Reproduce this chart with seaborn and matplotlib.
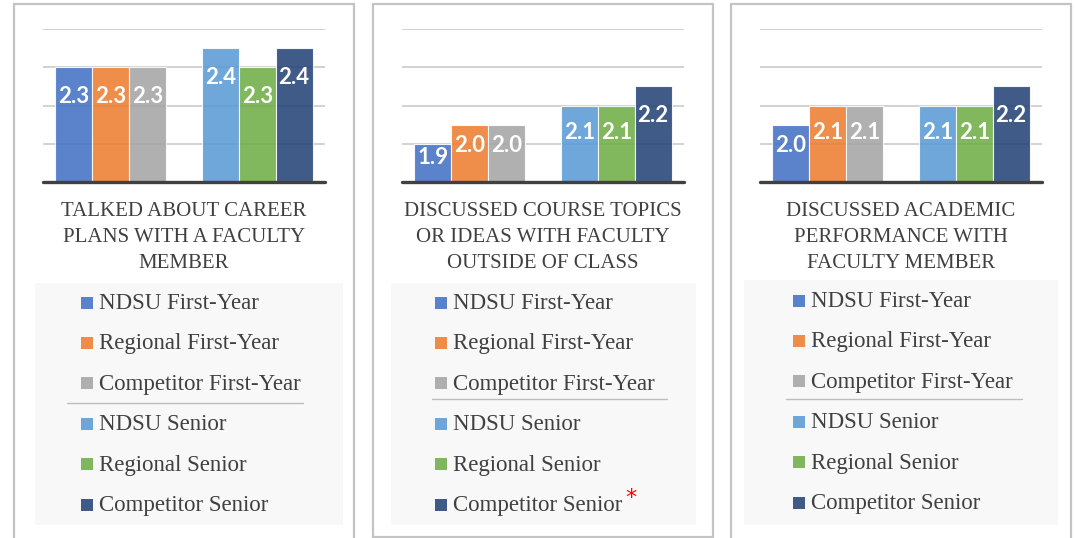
import numpy as np
import pandas as pd
import matplotlib
matplotlib.use("Agg")
import matplotlib.pyplot as plt
from matplotlib.patches import Rectangle
from matplotlib.lines import Line2D
import seaborn as sns

# dados
titulos = ["TALKED ABOUT CAREER\nPLANS WITH A FACULTY\nMEMBER",
           "DISCUSSED COURSE TOPICS\nOR IDEAS WITH FACULTY\nOUTSIDE OF CLASS",
           "DISCUSSED ACADEMIC\nPERFORMANCE WITH\nFACULTY MEMBER"]
coortes = ["First-Year", "Senior"]
escolas = ["NDSU", "Regional", "Competitor"]
primeiro_ano = [[2.3, 2.3, 2.3], [1.9, 2.0, 2.0], [2.0, 2.1, 2.1]]
senior = [[2.4, 2.3, 2.4], [2.1, 2.1, 2.2], [2.1, 2.1, 2.2]]
series = ["NDSU First-Year", "Regional First-Year", "Competitor First-Year",
          "NDSU Senior", "Regional Senior", "Competitor Senior"]
cores = ["#4472C4", "#ED7D31", "#A5A5A5", "#5B9BD5", "#70AD47", "#264478"]
yticks = [1.7, 1.9, 2.1, 2.3, 2.5]

W, H = 1075, 538
sns.set_theme(style="white")
plt.rcParams['font.family'] = ['Liberation Serif', 'DejaVu Serif']
fig = plt.figure(figsize=(W / 100, H / 100), dpi=100)
fig.patch.set_facecolor("white")

def fx(px):
    return px / W

def fy(py):
    return 1 - py / H

plot_left = [43, 402, 760]
plot_w = 282
moldura = [(14, 354), (373, 713), (731, 1071)]
fundo_leg = [(35, 343, 283), (391, 696, 283), (744, 1058, 280)]
sep_leg = [(67, 303, 403), (432, 667, 399), (786, 1022, 399)]
marc_leg = [81, 435, 793]
base_leg = [309, 309, 307]
passo_leg = 40.4
fundo_cinza = "#404040"

fig.canvas.draw()
renderer = fig.canvas.get_renderer()

for k in range(3):
    # moldura do painel
    x0, x1 = moldura[k]
    fondo = 537 if k == 1 else 560
    fig.add_artist(Rectangle((fx(x0), fy(fondo)), fx(x1 - x0), (fondo - 4) / H,
                             transform=fig.transFigure, fill=False,
                             edgecolor="#c4c4c4", linewidth=1.6))

    ax = fig.add_axes([fx(plot_left[k]), fy(181.7), fx(plot_w), 152.4 / H])
    df = pd.DataFrame({"coorte": np.repeat(coortes, 3),
                       "escola": escolas * 2,
                       "valor": primeiro_ano[k] + senior[k]})
    sns.barplot(data=df, x="coorte", y="valor", hue="escola", order=coortes,
                hue_order=escolas, ax=ax, width=0.75, saturation=1,
                legend=False, edgecolor="white", linewidth=0.8, zorder=3)
    for i, cont in enumerate(ax.containers):
        for j, barra in enumerate(cont):
            barra.set_facecolor(cores[j * 3 + i])
            barra.set_alpha(0.88)
            v = barra.get_height()
            # altura visivel em px (eixo 0.8 -> 152.4 px)
            vis = (v - 1.7) / 0.8 * 152.4
            desl = min(29, 0.36 * vis) * 72 / 100
            ax.annotate(f"{v:.1f}", (barra.get_x() + barra.get_width() / 2, v),
                        xytext=(0, -desl), textcoords="offset points",
                        ha="center", va="center", color="white",
                        fontsize=16, fontweight="bold", family="Lato", zorder=5)
    ax.set_ylim(1.7, 2.5)
    ax.set_yticks(yticks)
    ax.set_xlim(-0.46, 1.46)
    ax.yaxis.grid(True, color="#cfcfcf", linewidth=1.3, zorder=0)
    ax.set_axisbelow(True)
    for s in ax.spines.values():
        s.set_visible(False)
    ax.set_xticks([])
    ax.set_yticklabels([])
    ax.tick_params(left=False, bottom=False)
    ax.set_xlabel("")
    ax.set_ylabel("")
    ax.axhline(1.7, color=fundo_cinza, linewidth=2.4, clip_on=False, zorder=6)

    # titulo da categoria
    fig.text(fx(plot_left[k] + plot_w / 2), fy(237.5), titulos[k],
             ha="center", va="center", fontsize=15, color="#404040",
             linespacing=1.5)

    # legenda
    lx0, lx1, ly0 = fundo_leg[k]
    fig.add_artist(Rectangle((fx(lx0), fy(525)), fx(lx1 - lx0), (525 - ly0) / H,
                             transform=fig.transFigure, facecolor="#f8f8f8",
                             edgecolor="none"))
    sx0, sx1, sy = sep_leg[k]
    fig.add_artist(Line2D([fx(sx0), fx(sx1)], [fy(sy), fy(sy)],
                          transform=fig.transFigure, color="#bdbdbd", linewidth=1))
    for n, nome in enumerate(series):
        yy = base_leg[k] + passo_leg * n
        fig.add_artist(Rectangle((fx(marc_leg[k]), fy(yy - 0.5)), fx(12), 12 / H,
                                 transform=fig.transFigure, facecolor=cores[n],
                                 alpha=0.88, edgecolor="none"))
        t = fig.text(fx(marc_leg[k] + 18), fy(yy), nome, ha="left", va="baseline",
                     fontsize=16.5, color="#404040")
        if k == 1 and n == 5:
            bb = t.get_window_extent(renderer=renderer)
            fig.text(fx(bb.x1 + 3), fy(yy - 13), "*", ha="left", va="center",
                     fontsize=16, color="red", family="DejaVu Sans")

fig.savefig("out.png", dpi=100)
